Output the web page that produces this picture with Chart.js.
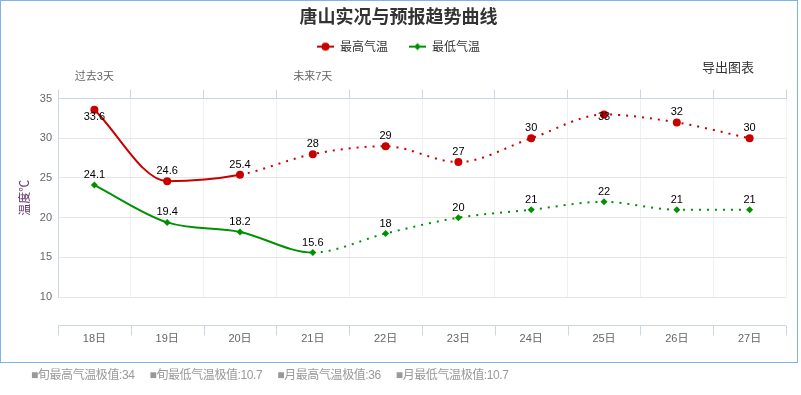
<!DOCTYPE html>
<html>
<head>
<meta charset="utf-8">
<script src="https://cdn.jsdelivr.net/npm/chart.js@4"></script>
<style>
  body { margin: 0; background: #fff; font-family: 'Liberation Sans', 'Noto Sans CJK SC', sans-serif; }
  #wrap { position: absolute; left: 0; top: 0; width: 798px; height: 363px; }
  #frame { position: absolute; left: 0; top: 0; width: 798px; height: 363px; box-sizing: border-box; border: 1px solid #7cb5ec; pointer-events: none; }
  #export { position: absolute; left: 702px; top: 57px; font-size: 13px; color: #333; font-family: 'Noto Sans CJK SC', sans-serif; }
  #notes { position: absolute; left: 31px; top: 365px; font-size: 12px; letter-spacing: -0.4px; color: #999; white-space: nowrap; }
  #notes span { margin-right: 15px; }
</style>
</head>
<body>
<div id="wrap">
  <canvas id="temp-chart" width="798" height="363"></canvas>
  <div id="frame"></div>
  <div id="export">导出图表</div>
</div>
<div id="notes"><span>■旬最高气温极值:34</span><span>■旬最低气温极值:10.7</span><span>■月最高气温极值:36</span><span>■月最低气温极值:10.7</span></div>

<script>
// data
let days = ['18日', '19日', '20日', '21日', '22日', '23日', '24日', '25日', '26日', '27日']
let periodLabels = ['过去3天', '', '', '未来7天', '', '', '', '', '', '']
let highTemps = [33.6, 24.6, 25.4, 28, 29, 27, 30, 33, 32, 30]
let lowTemps = [24.1, 19.4, 18.2, 15.6, 18, 20, 21, 22, 21, 21]
let yTicks = [10, 15, 20, 25, 30, 35]

let red = '#c80000'
let green = '#009100'
let font = "'Liberation Sans', 'Noto Sans CJK SC', sans-serif"

// legend icons: a short line with the marker on it
function legendIcon(color, shape) {
    let c = document.createElement('canvas')
    c.width = 17
    c.height = 10
    let g = c.getContext('2d')
    g.strokeStyle = color
    g.lineWidth = 2
    g.beginPath()
    g.moveTo(0, 5)
    g.lineTo(17, 5)
    g.stroke()
    g.fillStyle = color
    g.beginPath()
    if (shape === 'circle') {
        g.arc(8.5, 5, 4, 0, Math.PI * 2)
    } else {
        g.moveTo(8.5, 1.5); g.lineTo(12, 5); g.lineTo(8.5, 8.5); g.lineTo(5, 5)
    }
    g.fill()
    return c
}
let icons = [legendIcon(red, 'circle'), legendIcon(green, 'diamond')]

// numbers over the points
let valueLabels = {
    id: 'valueLabels',
    afterDatasetsDraw(chart) {
        let ctx = chart.ctx
        let area = chart.chartArea
        ctx.save()
        ctx.font = '11px ' + font
        ctx.textAlign = 'center'
        ctx.textBaseline = 'middle'
        ctx.fillStyle = '#000'
        chart.data.datasets.forEach(function(ds, i) {
            chart.getDatasetMeta(i).data.forEach(function(pt, j) {
                let y = pt.y - 10
                if (y - 7 < area.top) y = area.top + 18
                ctx.fillText(String(ds.data[j]), pt.x, y)
            })
        })
        ctx.restore()
    }
}

// the detached x axis line below the plot
let lowerAxis = {
    id: 'lowerAxis',
    afterDraw(chart) {
        let ctx = chart.ctx
        let area = chart.chartArea
        let x = chart.scales.x
        let half = (x.getPixelForValue(1) - x.getPixelForValue(0)) / 2
        let y0 = area.bottom + 28.5
        ctx.save()
        ctx.strokeStyle = '#ccd6eb'
        ctx.lineWidth = 1
        ctx.beginPath()
        ctx.moveTo(area.left, y0)
        ctx.lineTo(area.right, y0)
        for (let i = 0; i <= days.length; i++) {
            let px = Math.round(x.getPixelForValue(i) - half) + 0.5
            ctx.moveTo(px, y0)
            ctx.lineTo(px, y0 + 10)
        }
        ctx.stroke()
        ctx.restore()
    }
}

let chart = new Chart(document.querySelector('#temp-chart'), {
    type: 'line',
    data: {
        labels: days,
        datasets: [
            {
                label: '最高气温',
                data: highTemps,
                borderColor: red,
                backgroundColor: red,
                borderWidth: 2,
                pointStyle: 'circle',
                pointRadius: 4,
                pointBorderWidth: 0,
                pointHoverRadius: 5,
                cubicInterpolationMode: 'monotone',
                segment: { borderDash: c => c.p0DataIndex >= 2 ? [2, 6] : undefined }
            },
            {
                label: '最低气温',
                data: lowTemps,
                borderColor: green,
                backgroundColor: green,
                borderWidth: 2,
                pointStyle: 'rectRot',
                pointRadius: 3.5,
                pointBorderWidth: 0,
                pointHoverRadius: 4.5,
                cubicInterpolationMode: 'monotone',
                segment: { borderDash: c => c.p0DataIndex >= 3 ? [2, 6] : undefined }
            }
        ]
    },
    options: {
        responsive: false,
        animation: false,
        layout: { padding: { left: 11, right: 12, top: 0, bottom: 0 } },
        plugins: {
            title: {
                display: true,
                text: '唐山实况与预报趋势曲线',
                color: '#333',
                font: { size: 18, weight: 'bold', family: "'Noto Sans CJK SC', sans-serif" },
                padding: { top: 5, bottom: -7 }
            },
            legend: {
                labels: {
                    usePointStyle: true,
                    pointStyleWidth: 17,
                    padding: 21,
                    color: '#333',
                    font: { size: 12, family: "'Noto Sans CJK SC', sans-serif" },
                    generateLabels(ch) {
                        let items = Chart.defaults.plugins.legend.labels.generateLabels(ch)
                        items.forEach((it, i) => { it.pointStyle = icons[i] })
                        return items
                    }
                }
            },
            tooltip: { enabled: true }
        },
        scales: {
            x: {
                position: 'bottom',
                offset: true,
                grid: { offset: true, color: '#f0f0f0', drawTicks: false },
                border: { display: false },
                ticks: { color: '#666', font: { size: 11, family: font }, padding: 35 },
                afterFit(s) { s.height = 66 }
            },
            x2: {
                type: 'category',
                position: 'top',
                labels: periodLabels,
                offset: true,
                grid: { offset: true, drawOnChartArea: false, color: '#ccd6eb', tickLength: 9 },
                border: { color: '#ccd6eb' },
                ticks: { color: '#666', font: { size: 11, family: font }, padding: 6, autoSkip: false, maxRotation: 0 },
                afterFit(s) { s.height = 36 }
            },
            y: {
                min: 10,
                max: 35,
                afterBuildTicks(s) { s.ticks = yTicks.map(v => ({ value: v })) },
                grid: { color: '#e6e6e6', drawTicks: false },
                border: { color: '#ccd6eb' },
                ticks: { color: '#666', font: { size: 11, family: font }, padding: 6 },
                title: {
                    display: true,
                    text: '温度℃',
                    color: '#663366',
                    font: { size: 12, family: "'Noto Sans CJK SC', sans-serif" },
                    padding: { top: 6, bottom: 0 }
                },
                afterFit(s) { s.width = 47 }
            }
        }
    },
    plugins: [valueLabels, lowerAxis]
})
</script>
</body>
</html>
